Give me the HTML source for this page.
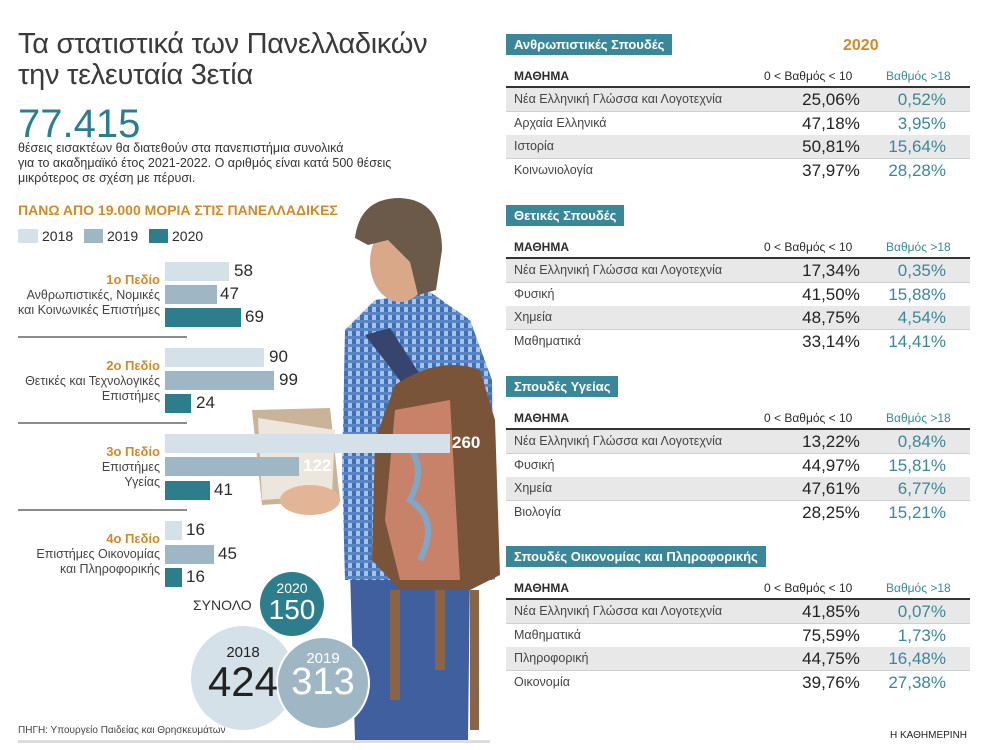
<!DOCTYPE html>
<html><head><meta charset="utf-8"><style>
*{margin:0;padding:0;box-sizing:border-box}
body{width:1008px;height:750px;background:#fff;position:relative;overflow:hidden;font-family:"Liberation Sans","DejaVu Sans",sans-serif;color:#2b2b2b}
.a{position:absolute;white-space:nowrap}
.lab{position:absolute;right:848px;text-align:right;font-size:12.5px;color:#444;line-height:15px}
.lab b{color:#d08a2a;font-size:13px}
.bar{position:absolute;left:165px;height:19px}
.c18{background:#d5e1e8}.c19{background:#9fb7c5}.c20{background:#2e7d8c}
.v{position:absolute;font-size:17px;color:#2b2b2b}
.sec{position:absolute;left:506px;height:21px;background:#3a8799;color:#fff;font-size:13px;font-weight:bold;padding:3px 8px}
.hd{position:absolute;left:506px;width:464px;height:26px;font-size:12px;font-weight:bold;border-bottom:2px solid #333}
.row{position:absolute;left:506px;width:464px;height:24px;font-size:12.5px;color:#444}
.row.g{background:#e8e8e8;border-bottom:1px solid #cfcfcf}
.row span{position:absolute;top:4px}
.row .n{left:8px}
.row .p{left:270px;width:110px;text-align:center;font-size:17px;top:2px;color:#222}
.row .q{left:340px;width:100px;text-align:right;font-size:17px;top:2px;color:#3a8799}
</style></head><body>
<svg class="a" style="left:0;top:0" width="1008" height="750">
<defs><pattern id="pl" width="8" height="8" patternUnits="userSpaceOnUse"><rect width="8" height="8" fill="#a8c3e6"/><rect width="4" height="8" fill="#3f6fb5"/><rect width="8" height="3" fill="#5a86c6"/></pattern></defs>
<polygon points="252,410 330,408 340,500 262,505" fill="#c9b49a"/>
<polygon points="258,418 335,430 332,495 262,500" fill="#ece6dc"/>
<path d="M350,570 L470,570 L468,740 L355,740 Z" fill="#3f5f9e"/>
<path d="M375,300 L430,292 L470,320 L492,380 L495,580 L345,580 L342,470 L345,330 Z" fill="url(#pl)"/>
<ellipse cx="310" cy="500" rx="30" ry="15" fill="#e3b596"/>
<ellipse cx="400" cy="262" rx="30" ry="40" fill="#d9a889"/>
<path d="M355,238 Q360,198 400,198 Q442,200 442,250 L436,290 L418,295 L410,262 L388,240 L368,245 Z" fill="#6b5a4a"/>
<path d="M365,335 L390,328 L430,390 L415,400 Z" fill="#36446e"/>
<path d="M395,385 Q440,355 480,370 L495,420 L500,575 L470,590 L400,590 L372,560 L375,440 Z" fill="#7a5438"/>
<path d="M395,410 L450,400 L460,580 L400,580 L385,520 Z" fill="#c9826a"/>
<path d="M400,440 Q430,460 410,500 Q440,520 420,560" stroke="#7fa7c6" stroke-width="6" fill="none"/>
<rect x="390" y="590" width="10" height="110" fill="#8a6447"/>
<rect x="435" y="590" width="10" height="80" fill="#8a6447"/>
<rect x="470" y="590" width="9" height="140" fill="#8a6447"/>
<line x1="18" y1="337" x2="187" y2="337" stroke="#666" stroke-width="1.5"/>
<line x1="18" y1="423" x2="187" y2="423" stroke="#666" stroke-width="1.5"/>
<line x1="18" y1="510" x2="187" y2="510" stroke="#666" stroke-width="1.5"/>
<circle cx="243" cy="678" r="52" fill="#d5e1e8"/>
<circle cx="323" cy="683" r="46" fill="#9fb7c5" stroke="#fff" stroke-width="2"/>
<circle cx="292" cy="604" r="32" fill="#2e7d8c"/>
<rect x="18" y="740" width="472" height="3" fill="#ddd"/>
</svg>
<div class="a" style="left:18px;top:29px;font-size:29px;line-height:31px;color:#3a3a3a;letter-spacing:-0.3px">Τα στατιστικά των Πανελλαδικών<br>την τελευταία 3ετία</div>
<div class="a" style="left:18px;top:102px;font-size:40px;color:#2e7d8c">77.415</div>
<div class="a" style="left:18px;top:141px;font-size:12.5px;line-height:15px;color:#333">θέσεις εισακτέων θα διατεθούν στα πανεπιστήμια συνολικά<br>για το ακαδημαϊκό έτος 2021-2022. Ο αριθμός είναι κατά 500 θέσεις<br>μικρότερος σε σχέση με πέρυσι.</div>
<div class="a" style="left:18px;top:202px;font-size:14px;font-weight:bold;color:#d08a2a">ΠΑΝΩ ΑΠΟ 19.000 ΜΟΡΙΑ ΣΤΙΣ ΠΑΝΕΛΛΑΔΙΚΕΣ</div>
<div class="a c18" style="left:18px;top:229px;width:20px;height:14px"></div><div class="a" style="left:42px;top:228px;font-size:14px">2018</div>
<div class="a c19" style="left:84px;top:229px;width:19px;height:14px"></div><div class="a" style="left:107px;top:228px;font-size:14px">2019</div>
<div class="a c20" style="left:149px;top:229px;width:19px;height:14px"></div><div class="a" style="left:172px;top:228px;font-size:14px">2020</div>

<div class="lab" style="top:272px"><b>1ο Πεδίο</b><br>Ανθρωπιστικές, Νομικές<br>και Κοινωνικές Επιστήμες</div>
<div class="bar c18" style="top:262px;width:64px"></div><div class="v" style="left:234px;top:261px">58</div>
<div class="bar c19" style="top:285px;width:52px"></div><div class="v" style="left:220px;top:284px">47</div>
<div class="bar c20" style="top:308px;width:76px"></div><div class="v" style="left:245px;top:307px">69</div>

<div class="lab" style="top:358px"><b>2ο Πεδίο</b><br>Θετικές και Τεχνολογικές<br>Επιστήμες</div>
<div class="bar c18" style="top:348px;width:99px"></div><div class="v" style="left:269px;top:347px">90</div>
<div class="bar c19" style="top:371px;width:109px"></div><div class="v" style="left:279px;top:370px">99</div>
<div class="bar c20" style="top:394px;width:26px"></div><div class="v" style="left:196px;top:393px">24</div>

<div class="lab" style="top:444px"><b>3ο Πεδίο</b><br>Επιστήμες<br>Υγείας</div>
<div class="bar c18" style="top:434px;width:285px"></div><div class="v" style="left:452px;top:433px;color:#fff;font-weight:bold">260</div>
<div class="bar c19" style="top:457px;width:134px"></div><div class="v" style="left:303px;top:456px;color:#fff;font-weight:bold">122</div>
<div class="bar c20" style="top:481px;width:45px"></div><div class="v" style="left:214px;top:480px">41</div>

<div class="lab" style="top:531px"><b>4ο Πεδίο</b><br>Επιστήμες Οικονομίας<br>και Πληροφορικής</div>
<div class="bar c18" style="top:521px;width:17px"></div><div class="v" style="left:186px;top:520px">16</div>
<div class="bar c19" style="top:545px;width:49px"></div><div class="v" style="left:218px;top:544px">45</div>
<div class="bar c20" style="top:568px;width:17px"></div><div class="v" style="left:186px;top:567px">16</div>

<div class="a" style="left:193px;top:597px;font-size:14px;color:#333">ΣΥΝΟΛΟ</div>
<div class="a" style="left:262px;top:580px;width:60px;text-align:center;font-size:14px;color:#fff">2020</div>
<div class="a" style="left:262px;top:594px;width:60px;text-align:center;font-size:28px;color:#fff">150</div>
<div class="a" style="left:193px;top:644px;width:100px;text-align:center;font-size:15px;color:#222">2018</div>
<div class="a" style="left:193px;top:658px;width:100px;text-align:center;font-size:42px;color:#222">424</div>
<div class="a" style="left:277px;top:650px;width:92px;text-align:center;font-size:15px;color:#fff">2019</div>
<div class="a" style="left:277px;top:661px;width:92px;text-align:center;font-size:38px;color:#fff">313</div>
<div class="a" style="left:18px;top:725px;font-size:10px;color:#444">ΠΗΓΗ: Υπουργείο Παιδείας και Θρησκευμάτων</div>
<div class="a" style="left:890px;top:730px;font-size:10px;color:#222">Η ΚΑΘΗΜΕΡΙΝΗ</div>

<div class="a" style="left:843px;top:37px;font-size:16px;font-weight:bold;color:#d08a2a">2020</div>

<div class="sec" style="top:34px">Ανθρωπιστικές Σπουδές</div>
<div class="hd" style="top:62px"><span class="a" style="left:8px;top:7px">ΜΑΘΗΜΑ</span><span class="a" style="left:258px;top:7px;font-weight:normal">0 &lt; Βαθμός &lt; 10</span><span class="a" style="left:380px;top:7px;font-weight:normal;color:#3a8799">Βαθμός &gt;18</span></div>
<div class="row g" style="top:88px"><span class="n">Νέα Ελληνική Γλώσσα και Λογοτεχνία</span><span class="p">25,06%</span><span class="q">0,52%</span></div>
<div class="row" style="top:112px"><span class="n">Αρχαία Ελληνικά</span><span class="p">47,18%</span><span class="q">3,95%</span></div>
<div class="row g" style="top:135px"><span class="n">Ιστορία</span><span class="p">50,81%</span><span class="q">15,64%</span></div>
<div class="row" style="top:159px"><span class="n">Κοινωνιολογία</span><span class="p">37,97%</span><span class="q">28,28%</span></div>

<div class="sec" style="top:205px">Θετικές Σπουδές</div>
<div class="hd" style="top:233px"><span class="a" style="left:8px;top:7px">ΜΑΘΗΜΑ</span><span class="a" style="left:258px;top:7px;font-weight:normal">0 &lt; Βαθμός &lt; 10</span><span class="a" style="left:380px;top:7px;font-weight:normal;color:#3a8799">Βαθμός &gt;18</span></div>
<div class="row g" style="top:259px"><span class="n">Νέα Ελληνική Γλώσσα και Λογοτεχνία</span><span class="p">17,34%</span><span class="q">0,35%</span></div>
<div class="row" style="top:283px"><span class="n">Φυσική</span><span class="p">41,50%</span><span class="q">15,88%</span></div>
<div class="row g" style="top:306px"><span class="n">Χημεία</span><span class="p">48,75%</span><span class="q">4,54%</span></div>
<div class="row" style="top:330px"><span class="n">Μαθηματικά</span><span class="p">33,14%</span><span class="q">14,41%</span></div>

<div class="sec" style="top:376px">Σπουδές Υγείας</div>
<div class="hd" style="top:404px"><span class="a" style="left:8px;top:7px">ΜΑΘΗΜΑ</span><span class="a" style="left:258px;top:7px;font-weight:normal">0 &lt; Βαθμός &lt; 10</span><span class="a" style="left:380px;top:7px;font-weight:normal;color:#3a8799">Βαθμός &gt;18</span></div>
<div class="row g" style="top:430px"><span class="n">Νέα Ελληνική Γλώσσα και Λογοτεχνία</span><span class="p">13,22%</span><span class="q">0,84%</span></div>
<div class="row" style="top:454px"><span class="n">Φυσική</span><span class="p">44,97%</span><span class="q">15,81%</span></div>
<div class="row g" style="top:477px"><span class="n">Χημεία</span><span class="p">47,61%</span><span class="q">6,77%</span></div>
<div class="row" style="top:501px"><span class="n">Βιολογία</span><span class="p">28,25%</span><span class="q">15,21%</span></div>

<div class="sec" style="top:546px">Σπουδές Οικονομίας και Πληροφορικής</div>
<div class="hd" style="top:574px"><span class="a" style="left:8px;top:7px">ΜΑΘΗΜΑ</span><span class="a" style="left:258px;top:7px;font-weight:normal">0 &lt; Βαθμός &lt; 10</span><span class="a" style="left:380px;top:7px;font-weight:normal;color:#3a8799">Βαθμός &gt;18</span></div>
<div class="row g" style="top:600px"><span class="n">Νέα Ελληνική Γλώσσα και Λογοτεχνία</span><span class="p">41,85%</span><span class="q">0,07%</span></div>
<div class="row" style="top:624px"><span class="n">Μαθηματικά</span><span class="p">75,59%</span><span class="q">1,73%</span></div>
<div class="row g" style="top:647px"><span class="n">Πληροφορική</span><span class="p">44,75%</span><span class="q">16,48%</span></div>
<div class="row" style="top:671px"><span class="n">Οικονομία</span><span class="p">39,76%</span><span class="q">27,38%</span></div>
</body></html>
